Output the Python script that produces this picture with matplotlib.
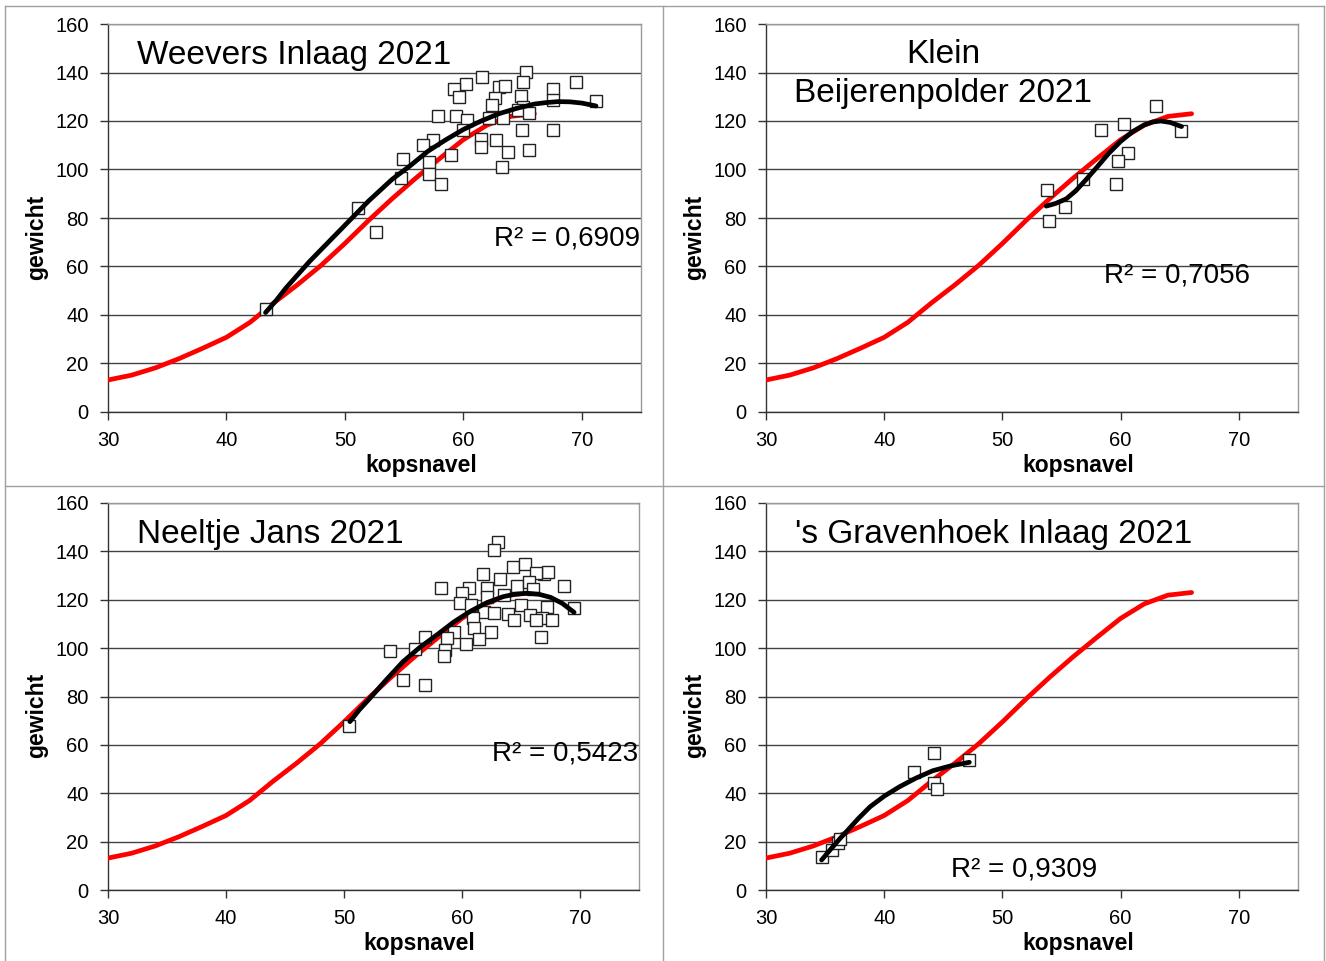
import matplotlib
matplotlib.use("Agg")
import matplotlib.pyplot as plt
from matplotlib.lines import Line2D

plt.rcParams['font.family'] = ['Liberation Sans', 'DejaVu Sans']

# ---------------- data ----------------
# reference growth curve (red), identical in all panels
ref_x = [30, 32, 34, 36, 38, 40, 42, 44, 46, 48, 50, 52, 54, 56, 58, 60, 62, 64, 66]
ref_y = [13.2, 15.2, 18.2, 22.0, 26.3, 30.8, 37.0, 45.0, 52.5, 60.5, 69.5, 79.0, 88.0, 96.5, 104.5, 112.3, 118.3, 121.9, 123.0]

# Weevers Inlaag 2021
wi_x = [65.25, 61.6, 69.55, 65.05, 60.2, 63.0, 63.5, 59.25, 59.65, 67.6, 64.9, 62.7, 62.4, 67.6,
        71.2, 65.05, 64.6, 65.55, 57.9, 59.4, 62.2, 63.35, 60.35, 60.0, 64.95, 67.55, 57.45, 56.6,
        61.5, 62.8, 61.5, 63.75, 65.55, 58.95, 54.9, 57.1, 63.25, 54.7, 57.1, 58.15, 51.1, 52.6, 43.3]
wi_y = [140.1, 138.3, 136.2, 136.2, 135.3, 134.1, 134.4, 133.2, 130.0, 133.2, 130.3, 129.4, 126.5, 128.7,
        128.2, 125.9, 124.5, 123.4, 122.1, 122.1, 121.1, 121.1, 120.4, 116.3, 116.3, 116.3, 112.2, 110.1,
        112.6, 112.2, 109.2, 107.2, 108.0, 106.0, 104.3, 103.2, 101.2, 96.4, 98.1, 94.0, 84.0, 74.2, 42.5]
wi_fit_x = [43.3, 44.2, 45.0, 46.0, 47.0, 48.3, 49.6, 50.8, 52.0, 53.0, 54.0, 55.5, 57.0, 58.5,
            60.0, 61.5, 63.0, 64.5, 66.0, 67.0, 68.0, 69.0, 70.0, 71.2]
wi_fit_y = [41.0, 46.0, 51.0, 56.5, 62.0, 68.5, 75.0, 81.0, 87.0, 91.5, 96.0, 101.5, 107.5, 112.2,
            116.5, 120.0, 123.0, 125.2, 127.0, 127.6, 128.0, 127.9, 127.4, 126.2]

# Klein Beijerenpolder 2021
kb_x = [62.97, 60.3, 58.3, 65.1, 60.65, 59.8, 56.8, 59.6, 53.8, 55.3, 53.97]
kb_y = [126.2, 118.8, 116.3, 115.9, 106.7, 103.6, 96.0, 93.9, 91.5, 84.4, 78.9]
kb_fit_x = [53.7, 54.5, 55.4, 56.2, 57.05, 58.0, 59.0, 60.0, 61.0, 62.0, 62.7, 63.4, 64.2, 65.15]
kb_fit_y = [84.9, 86.0, 87.9, 91.2, 95.7, 101.0, 106.7, 111.6, 115.6, 118.4, 119.6, 120.0, 119.4, 117.7]

# Neeltje Jans 2021
nj_x = [63.08, 62.7, 64.3, 65.3, 66.97, 67.26, 61.8, 63.2, 66.3, 68.67, 58.2, 60.6, 62.1, 64.7, 65.7,
        66.0, 60.0, 63.6, 62.1, 59.8, 60.8, 65.0, 67.2, 69.5, 61.9, 62.7, 63.9, 65.8, 66.75, 67.65,
        64.4, 66.25, 60.9, 61.0, 59.3, 62.5, 56.9, 58.75, 61.4, 60.3, 66.7, 53.9, 56.0, 58.6, 58.5,
        54.97, 56.9, 50.45]
nj_y = [143.7, 140.6, 133.7, 134.6, 130.6, 131.6, 130.6, 128.6, 130.9, 125.7, 124.7, 124.7, 125.0, 125.8, 127.2,
        124.4, 122.7, 122.0, 121.3, 118.8, 117.8, 117.8, 117.1, 116.5, 114.8, 114.6, 114.0, 113.7, 112.6, 111.6,
        111.6, 111.6, 112.3, 108.4, 106.5, 106.5, 104.7, 104.3, 103.6, 101.8, 104.7, 98.8, 99.6, 99.2, 96.7,
        86.8, 84.6, 67.8]
nj_fit_x = [50.5, 51.3, 52.2, 53.6, 55.0, 56.4, 57.85, 59.3, 60.7, 62.1, 63.5, 64.5, 65.5, 66.5,
            67.5, 68.5, 69.5]
nj_fit_y = [69.6, 74.5, 79.3, 87.0, 94.4, 100.2, 105.4, 110.8, 115.2, 118.8, 121.3, 122.3, 122.7, 122.3,
            121.0, 118.5, 114.8]

# 's Gravenhoek Inlaag 2021
gh_x = [34.7, 35.55, 36.1, 36.3, 42.5, 44.2, 44.2, 44.5, 47.2]
gh_y = [13.8, 16.5, 19.5, 21.0, 48.9, 56.8, 44.1, 41.8, 53.7]
gh_fit_x = [34.7, 35.5, 36.3, 36.8, 37.8, 38.8, 40.0, 41.3, 42.7, 44.1, 45.6, 47.2]
gh_fit_y = [12.4, 17.0, 21.5, 24.1, 29.5, 34.4, 38.8, 42.7, 46.3, 49.3, 51.3, 52.8]

titles = ["Weevers Inlaag 2021", "Klein\nBeijerenpolder 2021", "Neeltje Jans 2021", "'s Gravenhoek Inlaag 2021"]
r2_labels = ["R² = 0,6909", "R² = 0,7056", "R² = 0,5423", "R² = 0,9309"]
x_ticks = [30, 40, 50, 60, 70]
y_ticks = [0, 20, 40, 60, 80, 100, 120, 140, 160]

# ---------------- layout ----------------
W, H = 1326, 961
fig = plt.figure(figsize=(W / 100, H / 100), dpi=100)

def px_rect(l, r, t, b):
    return [l / W, 1 - b / H, (r - l) / W, (b - t) / H]

rects = [px_rect(108, 641, 24, 412), px_rect(766, 1298, 24, 412),
         px_rect(108, 639, 503, 890), px_rect(766, 1298, 503, 890)]

panels = [(wi_x, wi_y, wi_fit_x, wi_fit_y), (kb_x, kb_y, kb_fit_x, kb_fit_y),
          (nj_x, nj_y, nj_fit_x, nj_fit_y), (gh_x, gh_y, gh_fit_x, gh_fit_y)]

title_pos = [(0.054, 0.92, 'left'), (0.333, 0.872, 'center'), (0.054, 0.918, 'left'), (0.0545, 0.918, 'left')]
r2_pos = [(0.999, 0.448), (0.91, 0.351), (0.998, 0.354), (0.622, 0.052)]

for i, rect in enumerate(rects):
    ax = fig.add_axes(rect)
    sx, sy, fx, fy = panels[i]
    ax.plot(ref_x, ref_y, color='#ff0000', lw=3.4, zorder=3, solid_capstyle='round', solid_joinstyle='round')
    ax.plot(sx, sy, linestyle='none', marker='s', markersize=9, markerfacecolor='white',
            markeredgecolor='#222222', markeredgewidth=1.0, zorder=4)
    ax.plot(fx, fy, color='black', lw=3.4, zorder=5, solid_capstyle='round', solid_joinstyle='round')

    ax.set_xlim(30, 75)
    ax.set_ylim(0, 160)
    ax.set_xticks(x_ticks)
    ax.set_yticks(y_ticks)
    ax.tick_params(axis='both', direction='out', length=6, width=1, labelsize=14.5, color='#333333', pad=8)
    ax.grid(axis='y', color='#444444', lw=1.0)
    ax.set_axisbelow(True)
    for side in ['top', 'right']:
        ax.spines[side].set_color('#999999')
        ax.spines[side].set_linewidth(1.0)
    for side in ['left', 'bottom']:
        ax.spines[side].set_color('#333333')
        ax.spines[side].set_linewidth(1.0)

    ax.set_xlabel('kopsnavel', fontsize=16.5, fontweight='bold')
    ax.xaxis.set_label_coords(0.587, -0.108)
    ax.set_ylabel('gewicht', fontsize=16.5, fontweight='bold')
    ax.yaxis.set_label_coords(-0.112, 0.45)

    tx, ty, tha = title_pos[i]
    ax.text(tx, ty, titles[i], transform=ax.transAxes, fontsize=24, ha=tha, va='center',
            multialignment='center', linespacing=1.32, zorder=6)
    rx, ry = r2_pos[i]
    ax.text(rx, ry, r2_labels[i], transform=ax.transAxes, fontsize=20, ha='right', va='center', zorder=6)

# panel borders
bc = '#a0a0a0'
fig.add_artist(Line2D([5 / W, 1324 / W], [1 - 6 / H, 1 - 6 / H], transform=fig.transFigure, color=bc, lw=1))
fig.add_artist(Line2D([5 / W, 5 / W], [0, 1 - 6 / H], transform=fig.transFigure, color=bc, lw=1))
fig.add_artist(Line2D([1324 / W, 1324 / W], [0, 1 - 6 / H], transform=fig.transFigure, color=bc, lw=1))
fig.add_artist(Line2D([662.5 / W, 662.5 / W], [0, 1 - 6 / H], transform=fig.transFigure, color=bc, lw=1))
fig.add_artist(Line2D([5 / W, 1324 / W], [1 - 486 / H, 1 - 486 / H], transform=fig.transFigure, color=bc, lw=1))

fig.savefig('out.png', dpi=100)
